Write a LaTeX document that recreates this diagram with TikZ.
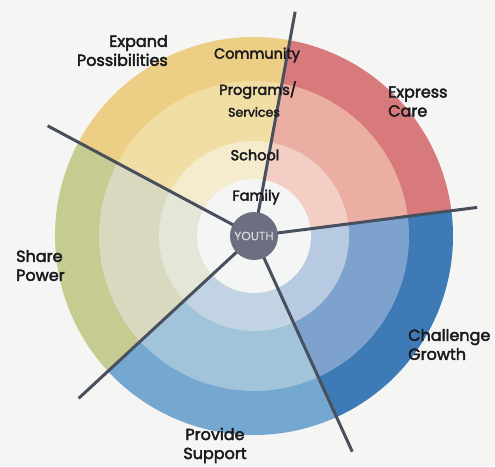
\documentclass[tikz,border=0pt]{standalone}
\usepackage{fontspec}
\setmainfont{Poppins}[FakeBold=2.6]
\newfontfamily\youthfont{Poppins}[FakeBold=0.8]
\definecolor{bgc}{RGB}{245,245,243}
\definecolor{redC}{RGB}{216,122,124}
\definecolor{redB}{RGB}{235,174,162}
\definecolor{redA}{RGB}{242,206,196}
\definecolor{yelC}{RGB}{236,206,132}
\definecolor{yelB}{RGB}{241,222,165}
\definecolor{yelA}{RGB}{245,236,205}
\definecolor{grnC}{RGB}{198,203,146}
\definecolor{grnB}{RGB}{216,217,190}
\definecolor{grnA}{RGB}{228,230,216}
\definecolor{supC}{RGB}{116,168,208}
\definecolor{supB}{RGB}{162,196,218}
\definecolor{supA}{RGB}{194,212,228}
\definecolor{chaC}{RGB}{62,122,182}
\definecolor{chaB}{RGB}{126,162,206}
\definecolor{chaA}{RGB}{184,202,226}
\definecolor{whc}{RGB}{244,245,245}
\definecolor{linec}{RGB}{72,80,94}
\definecolor{youthc}{RGB}{108,111,127}
\definecolor{youtht}{RGB}{214,216,224}
\definecolor{txtc}{RGB}{25,25,30}
\newcommand\mysector[5]{%
  \fill[#3] (0,0) -- (#1:199) arc[start angle=#1, end angle=#2, radius=199] -- cycle;
  \fill[#4] (0,0) -- (#1:155) arc[start angle=#1, end angle=#2, radius=155] -- cycle;
  \fill[#5] (0,0) -- (#1:95) arc[start angle=#1, end angle=#2, radius=95] -- cycle;
}
\begin{document}
\begin{tikzpicture}[x=1pt,y=1pt,
  outer/.style={font=\fontsize{16}{19}\selectfont, text=txtc, inner sep=0pt},
  ring/.style={font=\fontsize{14.5}{17}\selectfont, text=txtc, inner sep=0pt},
  spoke/.style={draw=linec, line width=3pt}]
\useasboundingbox (-254,-230) rectangle (241,236);
\fill[bgc] (-254,-230) rectangle (241,236);
\mysector{7.3}{79.6}{redC}{redB}{redA}
\mysector{79.6}{151.9}{yelC}{yelB}{yelA}
\mysector{151.9}{222.8}{grnC}{grnB}{grnA}
\mysector{222.8}{294.5}{supC}{supB}{supA}
\mysector{294.5}{367.3}{chaC}{chaB}{chaA}
\fill[whc] (0,0) circle[radius=57];
\coordinate (c) at (0,0);
\coordinate (e1) at (79.6:228);
\coordinate (e2) at (7.3:225);
\coordinate (e3) at (294.5:237);
\coordinate (e4) at (222.8:239);
\coordinate (e5) at (151.9:234);
\foreach \e in {e1,e2,e3,e4,e5} \draw[spoke] (c) -- (\e);
\node[circle, fill=youthc, minimum size=48pt, inner sep=0pt, text=youtht,
  font=\youthfont\fontsize{12}{12}\selectfont] (youth) at (c) {YOUTH};
\node[ring] (family) at (2,39) {Family};
\node[ring] (school) at (1,81) {School};
\node[ring] (programs) at (4,146) {Programs/};
\node[ring, font=\fontsize{12.5}{14}\selectfont] (services) at (0,124) {Services};
\node[ring] (community) at (3,181) {Community};
\node[outer, anchor=east, align=right] (expand) at (-86,185.5) {Expand\\Possibilities};
\node[outer, anchor=west, align=left] (express) at (134,134.5) {Express\\Care};
\node[outer, anchor=west, align=left] (share) at (-238,-29.5) {Share\\Power};
\node[outer, anchor=west, align=left] (challenge) at (154,-108.5) {Challenge\\Growth};
\node[outer, align=center] (provide) at (-39,-209.5) {Provide\\Support};
\end{tikzpicture}
\end{document}
